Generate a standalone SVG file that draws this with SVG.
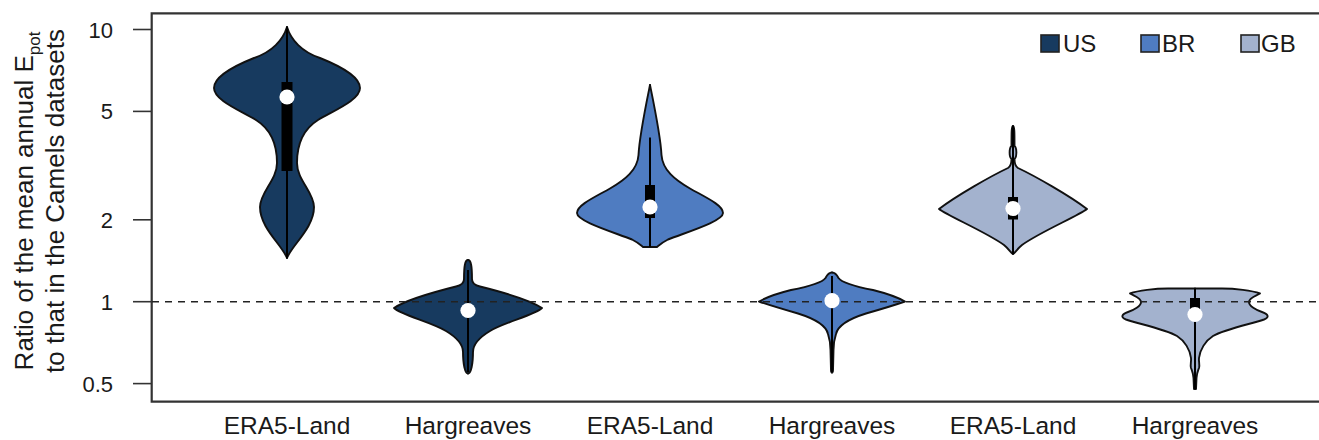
<svg xmlns="http://www.w3.org/2000/svg" xmlns:xlink="http://www.w3.org/1999/xlink" width="1319" height="440" viewBox="0 0 1319 440">
<defs>
<style>
text{font-family:"Liberation Sans",Arial,sans-serif;fill:#1a1a1a}
.body{stroke:#111;stroke-width:1.9;stroke-linejoin:round;stroke-linecap:round}
.us{fill:#173a5f}
.br{fill:#4f7cc1}
.gb{fill:#a3b2ce}
.wh{stroke:#000;stroke-width:2}
.box{fill:#000}
.med{fill:#fff}
.tick{stroke:#333;stroke-width:1.6}
.tl{font-size:22px;text-anchor:end}
.xl{font-size:24.5px;text-anchor:middle}
.lg{font-size:24px}
.sw{stroke:#222;stroke-width:1.6}
</style>
<path id="v1r" d="M287,27 C291,40 302,52 320,58 C340,66 360,76 360,88 C360,100 335,110 318,120 C302,130 297,145 297,163 C297,180 314,192 314,207 C314,228 292,245 287,258"/>
<path id="v2r" d="M468,260 C471,260 472,266 472,279 C472,283 475,285.5 480,286.5 C500,291.5 530,300 542,308 C535,315 505,322 490,331 C480,337 473,344 473,352 C473,364 471,373.5 468,373.5"/>
<path id="v3r" d="M650,85 C652,95 660.5,135 661.5,155 C662.5,170 675,180 690,188.5 C705,197 723,205 723,213 C723,221 690,231 668,239.5 C662,242.5 659,245.5 657,247 L650,247"/>
<path id="v4r" d="M832,272.5 C835.5,272.5 837,275 838.5,278 C842,283 855,286.5 873,290 C887,293.5 898,297.5 905,301.5 C895,305 880,309.5 866,313.5 C850,318.5 838,325 836,334 C834,340 833.5,345 833.5,350 L833,370 C833,372.5 832.5,372.5 832,372.5"/>
<path id="v5r" d="M1013,126 C1014.5,126 1014.5,132 1014.5,146 C1017,148 1017,157 1014.5,159 C1014.5,163 1015.5,166.5 1018,168 C1035,176 1070,196 1087,209 C1078,216 1040,232 1022,245 C1017,249 1015,253 1013,254"/>
<path id="v6r" d="M1195,288.5 L1222,288.5 C1235,288.5 1252,290.5 1260,293.5 C1256,296 1249,298 1249,302 C1249,306 1256,310 1262,312 C1268,314 1270,317 1264,319.5 C1255,323 1225,329 1213,336 C1205,341 1200,350 1199,358 C1198.5,362 1200,364 1199,368 C1198,371 1197,372 1196.5,378 L1196,389 L1195,389"/>
</defs>
<rect width="1319" height="440" fill="#fff"/>

<g id="axes">
<path d="M1319,13.3 H151.7 V401.7 H1319" fill="none" stroke="#333" stroke-width="2.2"/>
<line class="tick" x1="133" y1="29.5" x2="152" y2="29.5"/>
<line class="tick" x1="133" y1="111.4" x2="152" y2="111.4"/>
<line class="tick" x1="133" y1="219.8" x2="152" y2="219.8"/>
<line class="tick" x1="133" y1="301.7" x2="152" y2="301.7"/>
<line class="tick" x1="133" y1="383.6" x2="152" y2="383.6"/>
<text class="tl" x="113" y="37.5">10</text>
<text class="tl" x="113" y="119.4">5</text>
<text class="tl" x="113" y="227.8">2</text>
<text class="tl" x="113" y="309.7">1</text>
<text class="tl" x="113" y="391.6">0.5</text>
<text transform="translate(33,201) rotate(-90)" text-anchor="middle" font-size="26">Ratio of the mean annual E<tspan font-size="17" dy="7">pot</tspan></text>
<text transform="translate(64,201) rotate(-90)" text-anchor="middle" font-size="26">to that in the Camels datasets</text>
<text class="xl" x="287" y="434">ERA5-Land</text>
<text class="xl" x="468" y="434">Hargreaves</text>
<text class="xl" x="650" y="434">ERA5-Land</text>
<text class="xl" x="832" y="434">Hargreaves</text>
<text class="xl" x="1013" y="434">ERA5-Land</text>
<text class="xl" x="1195" y="434">Hargreaves</text>
</g>

<g id="violin-bodies">
<g id="us-era5-body"><use xlink:href="#v1r" class="body us"/><use xlink:href="#v1r" class="body us" transform="translate(574,0) scale(-1,1)"/></g>
<g id="us-hargreaves-body"><use xlink:href="#v2r" class="body us"/><use xlink:href="#v2r" class="body us" transform="translate(936,0) scale(-1,1)"/></g>
<g id="br-era5-body"><use xlink:href="#v3r" class="body br"/><use xlink:href="#v3r" class="body br" transform="translate(1300,0) scale(-1,1)"/></g>
<g id="br-hargreaves-body"><use xlink:href="#v4r" class="body br"/><use xlink:href="#v4r" class="body br" transform="translate(1664,0) scale(-1,1)"/></g>
<g id="gb-era5-body"><use xlink:href="#v5r" class="body gb"/><use xlink:href="#v5r" class="body gb" transform="translate(2026,0) scale(-1,1)"/></g>
<g id="gb-hargreaves-body"><use xlink:href="#v6r" class="body gb"/><use xlink:href="#v6r" class="body gb" transform="translate(2390,0) scale(-1,1)"/></g>
</g>

<g id="connectors">
<line x1="152" y1="301.7" x2="1319" y2="301.7" stroke="#222" stroke-width="1.6" stroke-dasharray="7 6"/>
</g>

<g id="violin-summaries">
<g id="us-era5-summary"><line class="wh" x1="287" y1="27" x2="287" y2="258"/><rect class="box" x="281.5" y="82" width="11" height="89"/><circle class="med" cx="287" cy="97" r="7.6"/></g>
<g id="us-hargreaves-summary"><line class="wh" x1="468" y1="270" x2="468" y2="372"/><circle class="med" cx="468" cy="310.5" r="7.6"/></g>
<g id="br-era5-summary"><line class="wh" x1="650" y1="137.5" x2="650" y2="247"/><rect class="box" x="645" y="185" width="10" height="33"/><circle class="med" cx="650" cy="207" r="7.6"/></g>
<g id="br-hargreaves-summary"><line class="wh" x1="832" y1="276" x2="832" y2="372"/><circle class="med" cx="832" cy="300.7" r="7.6"/></g>
<g id="gb-era5-summary"><line class="wh" x1="1013" y1="126" x2="1013" y2="254"/><rect class="box" x="1008" y="197" width="10" height="22.5"/><circle class="med" cx="1013" cy="208.5" r="7.6"/></g>
<g id="gb-hargreaves-summary"><line class="wh" x1="1195" y1="288.5" x2="1195" y2="389"/><rect class="box" x="1190" y="298" width="10" height="14"/><circle class="med" cx="1195" cy="314.5" r="7.6"/></g>
</g>

<g id="legend">
<g id="legend-us"><rect class="sw us" x="1041" y="35" width="18" height="17"/><text class="lg" x="1063" y="52">US</text></g>
<g id="legend-br"><rect class="sw br" x="1141" y="35" width="18" height="17"/><text class="lg" x="1162" y="52">BR</text></g>
<g id="legend-gb"><rect class="sw gb" x="1241" y="35" width="18" height="17"/><text class="lg" x="1261" y="52">GB</text></g>
</g>
</svg>
